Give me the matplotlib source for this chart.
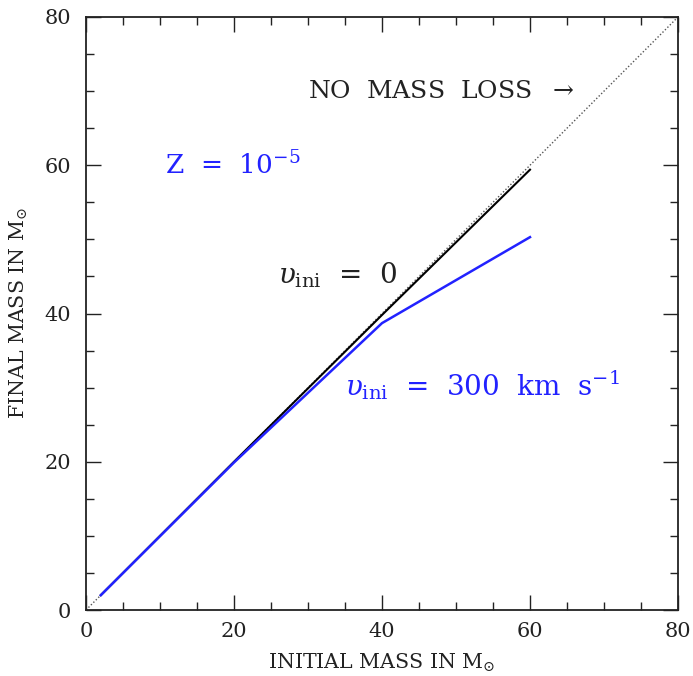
import matplotlib
matplotlib.use("Agg")
import matplotlib.pyplot as plt
from matplotlib.ticker import MultipleLocator

# Data
mass_ini_v0 = [2, 20, 40, 60]
mass_fin_v0 = [2, 20, 39.8, 59.4]
mass_ini_v300 = [2, 20, 40, 60]
mass_fin_v300 = [2, 19.9, 38.7, 50.3]
diag = [0, 80]

BLUE = "#2222ff"
DARK = "#222222"

plt.rcParams['font.family'] = ['DejaVu Serif']
plt.rcParams['mathtext.fontset'] = 'dejavuserif'

fig = plt.figure(figsize=(6.93, 6.76), dpi=100)
ax = fig.add_axes([86/693, 1-610/676, (678-86)/693, (610-17)/676])

ax.plot(diag, diag, color="#555555", lw=1.0, ls=(0, (1, 1.5)))
ax.plot(mass_ini_v0, mass_fin_v0, color="black", lw=1.5)
ax.plot(mass_ini_v300, mass_fin_v300, color=BLUE, lw=1.8)

ax.set_xlim(0, 80)
ax.set_ylim(0, 80)
ax.xaxis.set_major_locator(MultipleLocator(20))
ax.yaxis.set_major_locator(MultipleLocator(20))
ax.xaxis.set_minor_locator(MultipleLocator(5))
ax.yaxis.set_minor_locator(MultipleLocator(5))
ax.tick_params(which='both', direction='in', top=True, right=True, color=DARK, width=1.0)
ax.tick_params(which='major', length=11)
ax.tick_params(which='minor', length=5.8)
ax.tick_params(axis='x', which='major', pad=8.5, labelsize=15, labelcolor=DARK)
ax.tick_params(axis='y', which='major', pad=10.5, labelsize=15, labelcolor=DARK)
for s in ax.spines.values():
    s.set_linewidth(1.3)
    s.set_color(DARK)

ax.set_xlabel(r"INITIAL MASS IN M$_{\odot}$", fontsize=14.8, color=DARK, labelpad=8)
ax.set_ylabel(r"FINAL MASS IN M$_{\odot}$", fontsize=14.8, color=DARK, labelpad=11)

ax.text(30, 69.9, r"NO  MASS  LOSS  $\rightarrow$", fontsize=18, color=DARK, va='center', ha='left')
ax.text(10.7, 60, r"Z  =  10$^{-5}$", fontsize=19, color=BLUE, va='center', ha='left')
ax.text(26, 45.2, r"$\upsilon_{\rm ini}$  =  0", fontsize=20, color=DARK, va='center', ha='left')
ax.text(35, 30.4, r"$\upsilon_{\rm ini}$  =  300  km  s$^{-1}$", fontsize=20, color=BLUE, va='center', ha='left')

fig.savefig("out.png", dpi=100)
